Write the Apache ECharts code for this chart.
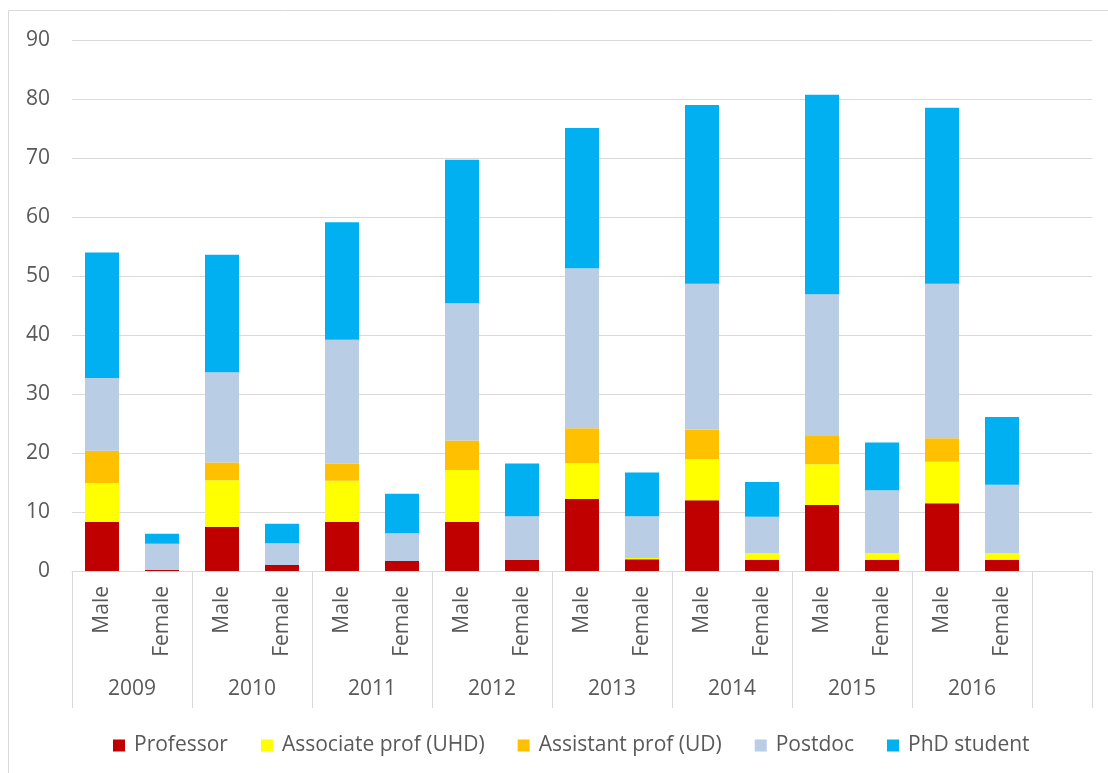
<!DOCTYPE html>
<html>
<head>
<meta charset="utf-8">
<script src="https://cdn.jsdelivr.net/npm/echarts@6/dist/echarts.min.js"></script>
<style>
  html, body { margin: 0; padding: 0; background: #fff; }
  #chart { width: 1108px; height: 773px; }
</style>
</head>
<body>
<div id="chart"></div>
<script>
const years = ['2009', '2010', '2011', '2012', '2013', '2014', '2015', '2016'];
const genders = ['Male', 'Female'];
const yTicks = [0, 10, 20, 30, 40, 50, 60, 70, 80, 90];

// values per bar, order: 2009 Male, 2009 Female, 2010 Male, ...
const professor = [8.3, 0.2, 7.5, 1.0, 8.3, 1.7, 8.3, 1.9, 12.2, 2.0, 12.0, 1.9, 11.2, 1.9, 11.5, 1.9];
const associateProf = [6.6, 0, 7.9, 0, 7.0, 0, 8.8, 0, 6.1, 0.2, 7.0, 1.1, 6.9, 1.1, 7.0, 1.1];
const assistantProf = [5.5, 0, 3.0, 0, 2.9, 0, 5.0, 0, 5.9, 0, 5.0, 0, 4.8, 0, 4.0, 0];
const postdoc = [12.3, 4.4, 15.3, 3.7, 21.0, 4.7, 23.3, 7.4, 27.1, 7.1, 24.7, 6.2, 24.0, 10.7, 26.2, 11.6];
const phdStudent = [21.3, 1.7, 19.9, 3.3, 19.9, 6.7, 24.3, 8.9, 23.8, 7.4, 30.3, 5.9, 33.8, 8.1, 29.8, 11.5];

const seriesNames = ['Professor', 'Associate prof (UHD)', 'Assistant prof (UD)', 'Postdoc', 'PhD student'];
const seriesColors = ['#C00000', '#FFFF00', '#FFC000', '#B9CDE5', '#00B0F0'];
const seriesValues = [professor, associateProf, assistantProf, postdoc, phdStudent];

// one extra empty slot after 2016, like the source
const barCats = [];
years.forEach(y => genders.forEach(g => barCats.push(y + '|' + g)));
barCats.push('|');

// half-step axis used only for the year separators and year labels
const halfSteps = [];
for (let i = 0; i <= barCats.length * 2; i++) halfSteps.push(String(i));

const textColor = '#595959';
const lineColor = '#d9d9d9';
const font = 'Open Sans';
const fontSize = 21;

const chart = echarts.init(document.getElementById('chart'));

chart.setOption({
  animation: false,
  textStyle: { fontFamily: font },
  graphic: [{
    type: 'rect',
    shape: { x: 8.5, y: 10.5, width: 1200, height: 900 },
    style: { fill: 'none', stroke: lineColor, lineWidth: 1 },
    silent: true
  }],
  grid: { left: 72, right: 16, top: 40, bottom: 202 },
  legend: {
    left: 108,
    top: 730,
    itemWidth: 12,
    itemHeight: 12,
    itemGap: 33,
    icon: 'rect',
    textStyle: { color: textColor, fontSize: fontSize, fontFamily: font, padding: [0, 0, 0, 4] },
    data: seriesNames
  },
  xAxis: [{
    type: 'category',
    position: 'bottom',
    data: barCats,
    axisLine: { lineStyle: { color: lineColor } },
    axisTick: { show: false },
    axisLabel: {
      interval: 0,
      rotate: 90,
      margin: 15,
      color: textColor,
      fontSize: fontSize,
      fontFamily: font,
      formatter: v => v.split('|')[1]
    }
  }, {
    type: 'category',
    position: 'bottom',
    boundaryGap: false,
    data: halfSteps,
    axisLine: { show: false },
    axisTick: {
      length: 137,
      lineStyle: { color: lineColor },
      interval: (i) => i % 4 === 0 || i === halfSteps.length - 1
    },
    axisLabel: {
      margin: 108,
      color: textColor,
      fontSize: fontSize,
      fontFamily: font,
      interval: (i) => i % 4 === 2 && (i - 2) / 4 < years.length,
      formatter: v => {
        const i = Number(v);
        return years[(i - 2) / 4] || '';
      }
    }
  }],
  yAxis: {
    type: 'value',
    min: yTicks[0],
    max: yTicks[yTicks.length - 1],
    interval: 10,
    axisLine: { show: false },
    axisTick: { show: false },
    splitLine: { lineStyle: { color: lineColor, width: 1 } },
    axisLabel: { color: textColor, fontSize: fontSize, margin: 22, fontFamily: font }
  },
  series: seriesNames.map((name, k) => ({
    name: name,
    type: 'bar',
    stack: 'total',
    xAxisIndex: 0,
    barWidth: 34,
    itemStyle: { color: seriesColors[k] },
    data: seriesValues[k].concat([null])
  }))
});
</script>
</body>
</html>
